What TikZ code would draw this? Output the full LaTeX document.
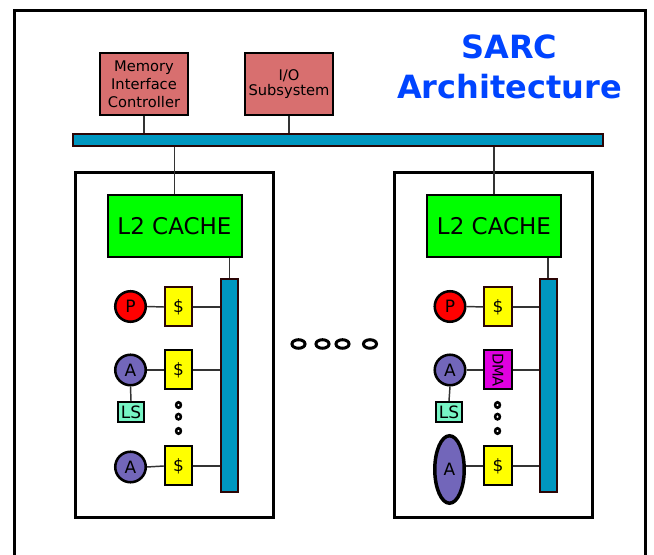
\documentclass[tikz,border=0pt]{standalone}
\usepackage{fontspec}
\setmainfont{DejaVu Sans}
\usetikzlibrary{shapes.geometric}
\definecolor{wirec}{HTML}{333333}
\definecolor{memred}{HTML}{D86F6F}
\definecolor{busblue}{HTML}{0096BF}
\definecolor{busedge}{HTML}{2B0505}
\definecolor{l2green}{HTML}{00FF00}
\definecolor{cachey}{HTML}{FFFF00}
\definecolor{pred}{HTML}{FF0000}
\definecolor{apurple}{HTML}{7266BA}
\definecolor{lsgreen}{HTML}{77F5C5}
\definecolor{dmamag}{HTML}{E000E0}
\definecolor{titleblue}{HTML}{0044FF}

\begin{document}
\begin{tikzpicture}[
    x=0.75pt, y=-0.75pt,
    line cap=butt, line join=miter,
    every node/.style={font=\fontsize{11}{13.5}\selectfont, inner sep=0pt},
    small/.style={font=\fontsize{12.75}{15}\selectfont},
    wire/.style={wirec, line width=1.1pt},
    frame/.style={draw=black, line width=2.25pt},
    unitbox/.style={draw=black, fill=memred, line width=1.5pt, align=center,
                    minimum width=66pt, minimum height=46.5pt},
    bus/.style={draw=busedge, fill=busblue, line width=1.5pt},
    cluster/.style={draw=black, line width=2.25pt, minimum width=148.5pt, minimum height=258.75pt},
    l2box/.style={draw=black, fill=l2green, line width=1.5pt,
                  minimum width=100.5pt, minimum height=46.5pt,
                  font=\fontsize{17.25}{20}\selectfont},
    cachebox/.style={small, draw=black, fill=cachey, line width=1.5pt,
                     minimum width=20.6pt, minimum height=29.25pt},
    core/.style={small, circle, draw=black, line width=1.9pt, minimum size=22.9pt},
    lsbox/.style={small, draw=black, fill=lsgreen, line width=1.5pt,
                  minimum width=19.5pt, minimum height=15pt},
    vdot/.style={black, line width=1.9pt},
    hdot/.style={black, line width=2.25pt},
]
\useasboundingbox (0,0) rectangle (654,555);

% ============================================================
% Outer frame and title
% ============================================================
\draw[frame] (14.5,560) -- (14.5,10.5) -- (645.5,10.5) -- (645.5,560);
\node[text=titleblue, align=center, font=\fontsize{24}{30}\selectfont\bfseries]
  (title) at (509.5,66.5) {SARC\\Architecture};

% ============================================================
% System bus with memory controller and I/O
% ============================================================
\node[unitbox] (mic) at (144,84) {Memory\\Interface\\Controller};
\node[unitbox, font=\fontsize{11}{11.25}\selectfont] (io) at (289,84) {I/O\\Subsystem};
\node[bus, minimum width=397.5pt, minimum height=9pt] (sysbus) at (338,140) {};
\draw[wire] (mic.south) -- (mic.south |- sysbus.north);
\draw[wire] (io.south)  -- (io.south |- sysbus.north);

% ============================================================
% Left cluster
% ============================================================
\node[cluster] (clL) at (174.5,345) {};
\node[l2box] (l2L) at (174.5,226) {L2 CACHE};
\draw[wire] (l2L.north) -- (l2L.north |- sysbus.south);
\node[bus, minimum width=12.75pt, minimum height=159.75pt] (lbusL) at (229.5,385.5) {};
\draw[wire] (lbusL.north) -- (lbusL.north |- l2L.south);

% P core
\node[core, fill=pred] (pL) at (130.5,306.5) {P};
\node[cachebox, draw=busedge] (cpL) at (178.5,307) {\$};
\draw[wire] (pL.east) -- (cpL.west);
\draw[wire] (cpL.east) -- (cpL.east -| lbusL.west);

% A core with local store
\node[core, fill=apurple] (aL) at (130.5,370) {A};
\node[cachebox] (caL) at (178.5,370) {\$};
\node[lsbox] (lsL) at (131,412) {LS};
\draw[wire] (aL.east) -- (caL.west);
\draw[wire] (caL.east) -- (caL.east -| lbusL.west);
\draw[wire] (aL.south) -- (lsL.north);

\foreach \dy in {405,416.7,431}
  \draw[vdot] (178.5,\dy) ellipse (1.8pt and 2.05pt);

% last A core
\node[core, fill=apurple] (anL) at (130.5,467) {A};
\node[cachebox] (canL) at (178.5,466) {\$};
\draw[wire] (anL.east) -- (canL.west);
\draw[wire] (canL.east) -- (canL.east -| lbusL.west);

% ============================================================
% Right cluster
% ============================================================
\node[cluster] (clR) at (493.5,345) {};
\node[l2box] (l2R) at (494,226) {L2 CACHE};
\draw[wire] (l2R.north) -- (l2R.north |- sysbus.south);
\node[bus, minimum width=12.75pt, minimum height=159.75pt] (lbusR) at (548,385.5) {};
\draw[wire] (lbusR.north) -- (lbusR.north |- l2R.south);

% P core
\node[core, fill=pred] (pR) at (450,306.5) {P};
\node[cachebox, draw=busedge] (cpR) at (498,307) {\$};
\draw[wire] (pR.east) -- (cpR.west);
\draw[wire] (cpR.east) -- (cpR.east -| lbusR.west);

% A core with DMA engine
\node[core, fill=apurple] (aR) at (450,370) {A};
\node[cachebox, fill=dmamag, font=\fontsize{11}{13.5}\selectfont] (dmaR) at (498,370) {\rotatebox{-90}{DMA}};
\node[lsbox] (lsR) at (449,412) {LS};
\draw[wire] (aR.east) -- (dmaR.west);
\draw[wire] (dmaR.east) -- (dmaR.east -| lbusR.west);
\draw[wire] (aR.south) -- (lsR.north);

\foreach \dy in {405,416.7,431}
  \draw[vdot] (497.5,\dy) ellipse (1.8pt and 2.05pt);

% last accelerator (tall)
\node[small, ellipse, draw=black, fill=apurple, line width=2.6pt,
      minimum width=22.1pt, minimum height=50.6pt] (anR) at (449.5,469.5) {A};
\node[cachebox] (canR) at (498,466) {\$};
\draw[wire] (anR.east |- canR.west) -- (canR.west);
\draw[wire] (canR.east) -- (canR.east -| lbusR.west);

% ============================================================
% More clusters in between
% ============================================================
\foreach \dx in {298.5,322.5,342.5,370}
  \draw[hdot] (\dx,344) ellipse (4.9pt and 3.2pt);

\end{tikzpicture}
\end{document}
